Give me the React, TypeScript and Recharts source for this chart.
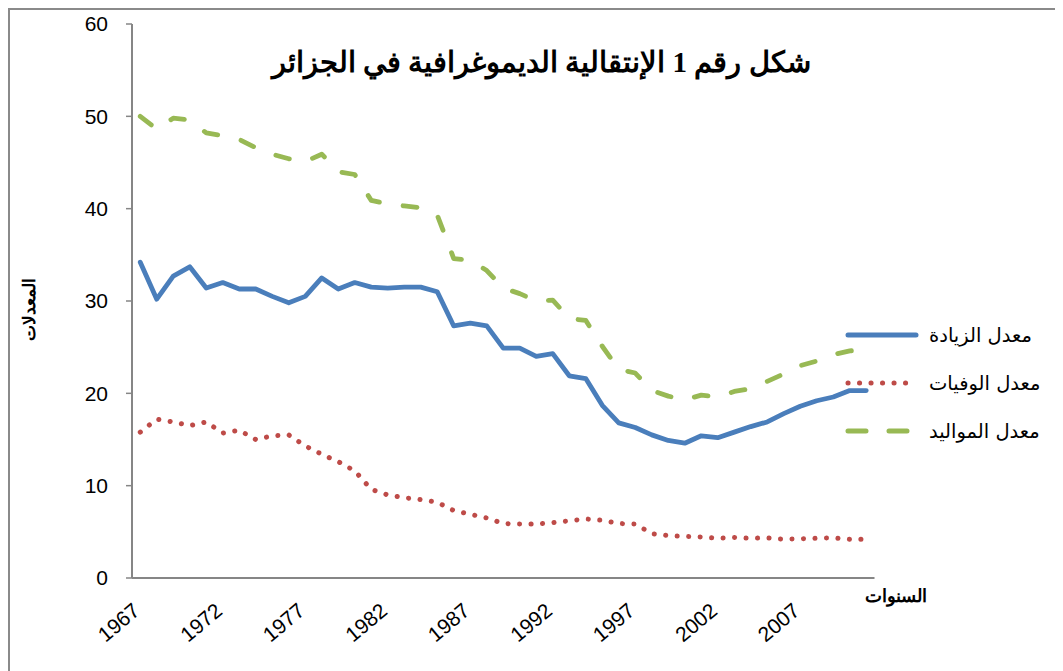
import React from "react";
import { LineChart, Line, XAxis, YAxis } from "recharts";

// السنوات 1967 - 2011
const years = [
  1967, 1968, 1969, 1970, 1971, 1972, 1973, 1974, 1975, 1976,
  1977, 1978, 1979, 1980, 1981, 1982, 1983, 1984, 1985, 1986,
  1987, 1988, 1989, 1990, 1991, 1992, 1993, 1994, 1995, 1996,
  1997, 1998, 1999, 2000, 2001, 2002, 2003, 2004, 2005, 2006,
  2007, 2008, 2009, 2010, 2011,
];

// معدل الزيادة
const growth = [
  34.2, 30.2, 32.7, 33.7, 31.4, 32.0, 31.3, 31.3, 30.5, 29.8,
  30.5, 32.5, 31.3, 32.0, 31.5, 31.4, 31.5, 31.5, 31.0, 27.3,
  27.6, 27.3, 24.9, 24.9, 24.0, 24.3, 21.9, 21.6, 18.7, 16.8,
  16.3, 15.5, 14.9, 14.6, 15.4, 15.2, 15.8, 16.4, 16.9, 17.8,
  18.6, 19.2, 19.6, 20.3, 20.3,
];

// معدل الوفيات
const deaths = [
  15.8, 17.2, 16.9, 16.5, 16.9, 15.7, 16.0, 15.0, 15.4, 15.5,
  14.3, 13.4, 12.6, 11.6, 9.6, 9.0, 8.7, 8.5, 8.2, 7.3,
  6.9, 6.5, 5.9, 5.85, 5.85, 6.0, 6.2, 6.4, 6.25, 5.9,
  5.85, 4.8, 4.6, 4.5, 4.45, 4.3, 4.4, 4.3, 4.35, 4.2,
  4.25, 4.3, 4.35, 4.2, 4.2,
];

// معدل المواليد
const births = [
  50.0, 48.6, 49.8, 49.6, 48.2, 47.9, 47.5, 46.6, 45.9, 45.4,
  45.1, 45.9, 44.0, 43.7, 40.9, 40.5, 40.3, 40.1, 39.3, 34.6,
  34.4, 33.3, 31.4, 30.8, 30.0, 30.1, 28.1, 27.9, 25.1, 22.6,
  22.2, 20.3, 19.7, 19.3, 19.8, 19.6, 20.2, 20.5, 21.3, 22.1,
  23.0, 23.5, 24.2, 24.6, 24.7,
];

const yTicks = [0, 10, 20, 30, 40, 50, 60];

const data = years.map((year, i) => ({
  year: String(year),
  growth: growth[i],
  deaths: deaths[i],
  births: births[i],
}));

const series = [
  { key: "growth", name: "معدل الزيادة", color: "#4a7ebb", dash: undefined },
  { key: "deaths", name: "معدل الوفيات", color: "#be4b48", dash: "0.1 11.4" },
  { key: "births", name: "معدل المواليد", color: "#98b954", dash: "14 24" },
];

const axisColor = "#868686";
const tickFont = '"Liberation Sans", Arial, sans-serif';

const YearTick = (props: any) => {
  const { x, y, payload } = props;
  const tx = x + 1;
  const ty = y + 35;
  return (
    <text
      x={tx}
      y={ty}
      textAnchor="end"
      transform={`rotate(-40 ${tx} ${ty})`}
      fontSize={21}
      fontFamily={tickFont}
      fill="#000"
    >
      {payload.value}
    </text>
  );
};

// legend drawn beside the chart, same look as the office legend
const LegendBox = () => (
  <div
    style={{
      position: "absolute",
      left: 837,
      top: 303,
      width: 218,
      fontFamily: '"DejaVu Sans", sans-serif',
      fontSize: 19.5,
    }}
  >
    {series.map((s) => (
      <div key={s.key} style={{ display: "flex", alignItems: "center", height: 48 }}>
        <svg width={76} height={10}>
          <line
            x1={3}
            y1={5}
            x2={s.key === "growth" ? 71 : s.key === "deaths" ? 64 : 66}
            y2={5}
            stroke={s.color}
            strokeWidth={5}
            strokeLinecap="round"
            strokeDasharray={s.key === "births" ? "18 23" : s.dash}
          />
        </svg>
        <span style={{ marginLeft: 8, color: "#000" }}>{s.name}</span>
      </div>
    ))}
  </div>
);

export default function App() {
  return (
    <div style={{ position: "relative", width: 1055, height: 663, background: "#fff" }}>
      <LineChart
        width={1055}
        height={663}
        data={data}
        margin={{ top: 16, right: 188.5, bottom: 33, left: 64 }}
      >
        <XAxis
          dataKey="year"
          interval={4}
          tickLine={false}
          tickSize={0}
          tickMargin={0}
          height={60}
          padding={{ left: 8.25, right: 8.25 }}
          axisLine={{ stroke: axisColor, strokeWidth: 2 }}
          tick={<YearTick />}
          label={{
            content: (p: any) => (
              <text
                x={p.viewBox.x + p.viewBox.width + 52}
                y={p.viewBox.y + 24}
                textAnchor="end"
                fontSize={18}
                fontWeight="bold"
                fontFamily={tickFont}
                fill="#000"
              >
                السنوات
              </text>
            ),
          }}
        />
        <YAxis
          type="number"
          domain={[0, 60]}
          ticks={yTicks}
          width={60}
          tickSize={6}
          tickMargin={18}
          axisLine={{ stroke: axisColor, strokeWidth: 2 }}
          tickLine={{ stroke: axisColor, strokeWidth: 1.5 }}
          tick={{ fill: "#000", fontSize: 21, fontFamily: tickFont }}
          label={{
            content: (p: any) => {
              const cx = 21;
              const cy = p.viewBox.y + p.viewBox.height / 2 + 8;
              return (
                <text
                  x={cx}
                  y={cy}
                  textAnchor="middle"
                  dominantBaseline="central"
                  transform={`rotate(-90 ${cx} ${cy})`}
                  fontSize={17}
                  fontWeight="bold"
                  fontFamily={tickFont}
                  fill="#000"
                >
                  المعدلات
                </text>
              );
            },
          }}
        />
        {series.map((s) => (
          <Line
            key={s.key}
            type="linear"
            dataKey={s.key}
            name={s.name}
            stroke={s.color}
            strokeWidth={s.key === "deaths" ? 5 : 4.8}
            strokeDasharray={s.dash}
            strokeLinecap="round"
            strokeLinejoin="round"
            dot={false}
            activeDot={false}
            isAnimationActive={false}
          />
        ))}
      </LineChart>
      <LegendBox />
      <div
        style={{
          position: "absolute",
          left: 533,
          top: 37,
          transform: "translateX(-50%)",
          whiteSpace: "nowrap",
          fontFamily: '"Liberation Serif", "Times New Roman", serif',
          fontWeight: "bold",
          fontSize: 29,
          color: "#000",
        }}
      >
        شكل رقم 1 الإنتقالية الديموغرافية في الجزائر
      </div>
      <div style={{ position: "absolute", left: 0, top: 0, width: 1055, height: 2, background: "#8a8a8a" }} />
      <div style={{ position: "absolute", left: 0, top: 0, width: 2, height: 663, background: "#8a8a8a" }} />
    </div>
  );
}
